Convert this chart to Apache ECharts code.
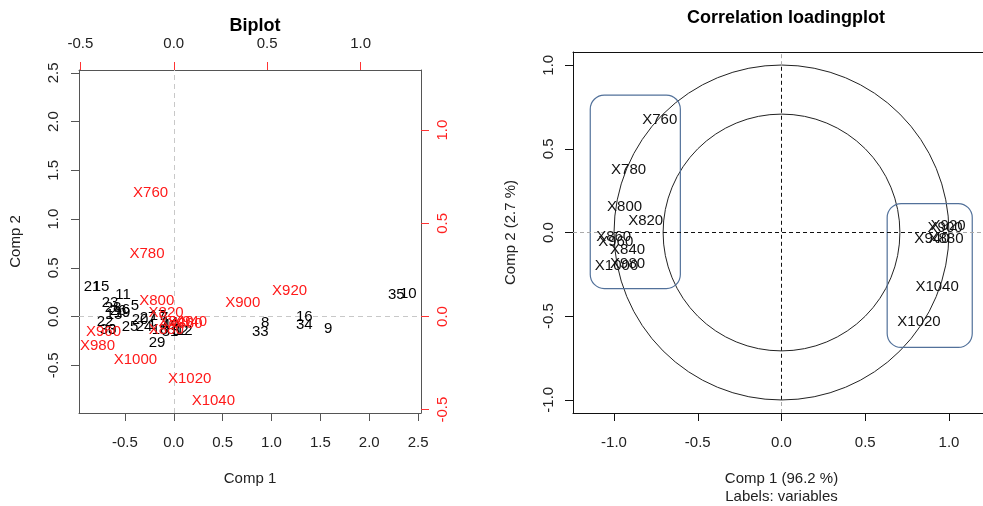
<!DOCTYPE html>
<html>
<head>
<meta charset="utf-8">
<script src="https://cdn.jsdelivr.net/npm/echarts@6/dist/echarts.min.js"></script>
<style>html,body{margin:0;padding:0;background:#fff;}#c{width:983px;height:506px;}</style>
</head>
<body>
<div id="c"></div>
<script>
// ---- Biplot: sample scores (Comp 1, Comp 2) ----
const scoreNames = ['21','15','11','5','23','28','26','19','6','13','22','30','3','25','24','20','27','17','14','18','4','1','7','29','31','32','12','2','8','33','16','34','9','35','10'];
const scoreX = [-0.837,-0.745,-0.519,-0.397,-0.652,-0.622,-0.571,-0.530,-0.489,-0.612,-0.704,-0.673,-0.631,-0.448,-0.304,-0.345,-0.263,-0.161,-0.038,-0.140,-0.079,-0.222,-0.099,-0.171,-0.038,0.065,0.106,0.013,0.935,0.885,1.335,1.335,1.581,2.277,2.400];
const scoreY = [0.304,0.304,0.222,0.109,0.139,0.088,0.057,0.037,0.068,0.016,-0.055,-0.137,-0.137,-0.107,-0.107,-0.035,-0.014,0.006,-0.065,-0.137,-0.086,-0.086,-0.014,-0.271,-0.158,-0.148,-0.148,-0.096,-0.066,-0.158,-0.004,-0.086,-0.127,0.222,0.232];

// ---- Biplot: variable loadings ----
const varNames = ['X760','X780','X800','X820','X840','X860','X880','X900','X920','X940','X960','X980','X1000','X1020','X1040'];
const loadX = [-0.124,-0.143,-0.091,-0.041,0.012,0.060,-0.040,0.369,0.620,0.085,-0.376,-0.408,-0.205,0.085,0.212];
const loadY = [0.663,0.336,0.085,0.019,-0.029,-0.040,-0.070,0.073,0.139,-0.027,-0.081,-0.157,-0.232,-0.333,-0.452];

// ---- Correlation loadings ----
const corX = [-0.727,-0.913,-0.937,-0.811,-0.919,-1.002,0.982,0.977,0.995,0.898,-0.990,-0.919,-0.985,0.821,0.929];
const corY = [0.671,0.372,0.151,0.068,-0.106,-0.028,-0.040,0.026,0.038,-0.040,-0.058,-0.189,-0.201,-0.536,-0.326];

// circles (radius) and group boxes [xmin, ymin, xmax, ymax]
const circleRadii = [1.0, 0.707];
const groupBoxes = [[-1.142,-0.335,-0.604,0.821],[0.631,-0.687,1.139,0.173]];

// tick values
const bipBottomTicks = [-0.5,0,0.5,1,1.5,2,2.5];
const bipLeftTicks = [-0.5,0,0.5,1,1.5,2,2.5];
const bipTopTicks = [-0.5,0,0.5,1];
const bipRightTicks = [-0.5,0,0.5,1];
const corTicks = [-1,-0.5,0,0.5,1];

// axis extents
const corXRange = [-1.245, 1.245];
const corYRange = [-1.079, 1.079];

const FONT = '"Liberation Sans", Arial, sans-serif';
const fmt = v => v.toFixed(1);

function axis(o) {
  const a = {
    type: 'value', gridIndex: o.grid, position: o.pos, min: o.min, max: o.max,
    splitLine: {show: false},
    axisLine: {show: true, onZero: false, lineStyle: {color: o.lineColor || '#555', width: 1}},
    axisTick: {show: !!o.ticks, length: 8, customValues: o.ticks || [], lineStyle: {color: o.tickColor || '#555', width: 1}},
    axisLabel: {show: !!o.ticks && !o.noLabels, customValues: o.ticks || [], formatter: fmt, margin: o.margin || 17,
      color: o.labelColor || '#222', fontSize: 15, fontFamily: FONT, rotate: o.rotate || 0, hideOverlap: false,
      showMinLabel: true, showMaxLabel: true}
  };
  if (o.name) {
    a.name = o.name; a.nameLocation = 'middle'; a.nameGap = o.nameGap;
    a.nameTextStyle = {color: '#222', fontSize: 15, fontFamily: FONT, lineHeight: 18};
  }
  return a;
}

function textSeries(xi, yi, xs, ys, names, color) {
  return {
    type: 'custom', xAxisIndex: xi, yAxisIndex: yi, silent: true, clip: false, z: 10,
    data: xs.map((v, i) => [v, ys[i]]),
    renderItem: (params, api) => {
      const p = api.coord([api.value(0), api.value(1)]);
      return {type: 'text', x: p[0], y: p[1], style: {text: names[params.dataIndex], fill: color,
        font: '15px ' + FONT, align: 'center', verticalAlign: 'middle'}};
    }
  };
}

const greyDash = {color: '#aaa', type: [4, 3], width: 1};
const option = {
  animation: false,
  backgroundColor: '#fff',
  textStyle: {fontFamily: FONT},
  title: [
    {text: 'Biplot', left: 250, top: 12, textAlign: 'center', textStyle: {fontSize: 18, fontWeight: 'bold', color: '#000', fontFamily: FONT}},
    {text: 'Correlation loadingplot', left: 781, top: 4, textAlign: 'center', textStyle: {fontSize: 18, fontWeight: 'bold', color: '#000', fontFamily: FONT}}
  ],
  grid: [
    {left: 79, top: 70, width: 342, height: 343, containLabel: false, outerBoundsMode: 'none'},
    {left: 573, top: 52, width: 417, height: 361, containLabel: false, outerBoundsMode: 'none'}
  ],
  xAxis: [
    axis({grid: 0, pos: 'bottom', min: -0.97, max: 2.53, ticks: bipBottomTicks, margin: 22, name: 'Comp 1', nameGap: 57}),
    axis({grid: 0, pos: 'top', min: -0.507, max: 1.323, ticks: bipTopTicks, tickColor: '#ff3333', margin: 19}),
    axis({grid: 1, pos: 'bottom', min: corXRange[0], max: corXRange[1], ticks: corTicks, lineColor: '#111', tickColor: '#111', margin: 22, name: 'Comp 1 (96.2 %)\nLabels: variables', nameGap: 57}),
    axis({grid: 1, pos: 'top', min: corXRange[0], max: corXRange[1], lineColor: '#111'})
  ],
  yAxis: [
    axis({grid: 0, pos: 'left', min: -0.99, max: 2.53, ticks: bipLeftTicks, rotate: 90, margin: 18, name: 'Comp 2', nameGap: 54}),
    axis({grid: 0, pos: 'right', min: -0.518, max: 1.323, ticks: bipRightTicks, tickColor: '#ff3333', labelColor: '#ff2020', rotate: 90, margin: 14}),
    axis({grid: 1, pos: 'left', min: corYRange[0], max: corYRange[1], ticks: corTicks, lineColor: '#111', tickColor: '#111', rotate: 90, margin: 17, name: 'Comp 2 (2.7 %)', nameGap: 53}),
    axis({grid: 1, pos: 'right', min: corYRange[0], max: corYRange[1], lineColor: '#111'})
  ],
  series: [
    // biplot zero lines
    {type: 'line', xAxisIndex: 0, yAxisIndex: 0, data: [], silent: true,
      markLine: {silent: true, symbol: ['none', 'none'], label: {show: false},
        lineStyle: {color: '#c8c8c8', type: [5, 4], width: 1},
        data: [{xAxis: 0}, {yAxis: 0}]}},
    textSeries(0, 0, scoreX, scoreY, scoreNames, '#000'),
    textSeries(1, 1, loadX, loadY, varNames, '#ff1a1a'),
    // correlation plot: grey zero lines outside the unit circle
    {type: 'line', xAxisIndex: 2, yAxisIndex: 2, data: [], silent: true,
      markLine: {silent: true, symbol: ['none', 'none'], label: {show: false}, lineStyle: greyDash,
        data: [
          [{coord: [corXRange[0], 0]}, {coord: [-1, 0]}],
          [{coord: [1, 0]}, {coord: [corXRange[1], 0]}],
          [{coord: [0, corYRange[0]]}, {coord: [0, -1]}],
          [{coord: [0, 1]}, {coord: [0, corYRange[1]]}]
        ]}},
    // black dashed axes within unit circle
    {type: 'line', xAxisIndex: 2, yAxisIndex: 2, data: [[-1, 0], [1, 0]], showSymbol: false, silent: true,
      lineStyle: {color: '#111', type: [4, 3], width: 1}},
    {type: 'line', xAxisIndex: 2, yAxisIndex: 2, data: [[0, -1], [0, 1]], showSymbol: false, silent: true,
      lineStyle: {color: '#111', type: [4, 3], width: 1}},
    // circles
    {type: 'custom', xAxisIndex: 2, yAxisIndex: 2, silent: true,
      data: circleRadii.map(r => [0, 0, r]),
      renderItem: (params, api) => {
        const c = api.coord([api.value(0), api.value(1)]);
        const r = api.size([api.value(2), 0])[0];
        return {type: 'circle', shape: {cx: c[0], cy: c[1], r: r}, style: {fill: 'none', stroke: '#222', lineWidth: 1}};
      }},
    // group boxes
    {type: 'custom', xAxisIndex: 2, yAxisIndex: 2, silent: true, encode: {x: [0, 2], y: [1, 3]},
      data: groupBoxes,
      renderItem: (params, api) => {
        const a = api.coord([api.value(0), api.value(3)]);
        const b = api.coord([api.value(2), api.value(1)]);
        return {type: 'rect', shape: {x: a[0], y: a[1], width: b[0] - a[0], height: b[1] - a[1], r: 14},
          style: {fill: 'none', stroke: '#52719a', lineWidth: 1.2}};
      }},
    textSeries(2, 2, corX, corY, varNames, '#111')
  ]
};

const chart = echarts.init(document.getElementById('c'), null, {renderer: 'canvas'});
chart.setOption(option);
</script>
</body>
</html>
